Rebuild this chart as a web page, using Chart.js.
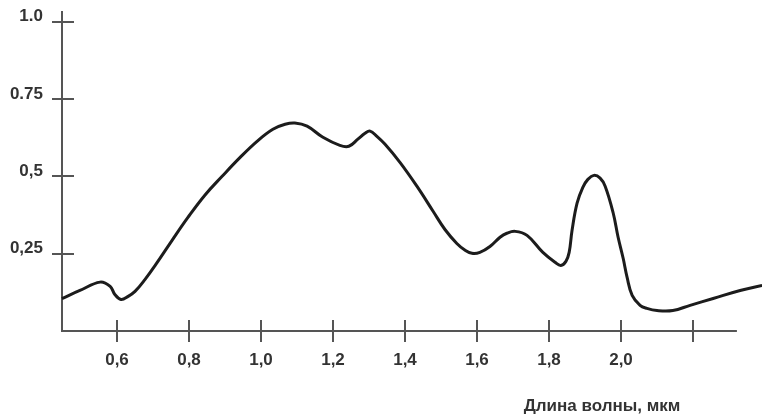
<!DOCTYPE html>
<html>
<head>
<meta charset="utf-8">
<script src="https://cdn.jsdelivr.net/npm/chart.js@4"></script>
<style>
    html, body { margin: 0; padding: 0; background: #fff; }
    #wrap { width: 762px; height: 417px; position: relative; }
</style>
</head>
<body>
<div id="wrap"><canvas id="spectrum"></canvas></div>
<script>
'use strict';

// wavelength, um
var wavelength = [0.447, 0.497, 0.553, 0.581, 0.594, 0.611, 0.631, 0.650, 0.678,
    0.706, 0.753, 0.797, 0.844, 0.892, 0.942, 0.989, 1.033, 1.067, 1.094,
    1.128, 1.172, 1.219, 1.244, 1.269, 1.289, 1.303, 1.322, 1.344, 1.386,
    1.433, 1.478, 1.511, 1.544, 1.567, 1.586, 1.608, 1.636, 1.664, 1.683,
    1.706, 1.739, 1.783, 1.817, 1.833, 1.847, 1.856, 1.864, 1.878, 1.894,
    1.908, 1.925, 1.942, 1.956, 1.978, 1.992, 2.006, 2.017, 2.031, 2.053,
    2.072, 2.100, 2.144, 2.192, 2.256, 2.331, 2.392];

var reflectance = [0.105, 0.131, 0.158, 0.144, 0.118, 0.102, 0.112, 0.128, 0.167,
    0.212, 0.293, 0.367, 0.439, 0.500, 0.561, 0.613, 0.652, 0.668, 0.672,
    0.662, 0.626, 0.600, 0.597, 0.620, 0.639, 0.646, 0.629, 0.604, 0.545,
    0.468, 0.387, 0.328, 0.283, 0.261, 0.251, 0.254, 0.273, 0.303, 0.316,
    0.322, 0.309, 0.254, 0.222, 0.212, 0.225, 0.254, 0.325, 0.413, 0.464,
    0.490, 0.503, 0.494, 0.468, 0.383, 0.303, 0.235, 0.173, 0.115, 0.083,
    0.073, 0.066, 0.066, 0.083, 0.105, 0.131, 0.147];

var xTickValues = [0.6, 0.8, 1.0, 1.2, 1.4, 1.6, 1.8, 2.0, 2.2];
var xTickLabels = ['0,6', '0,8', '1,0', '1,2', '1,4', '1,6', '1,8', '2,0', ''];
var yTickValues = [0.25, 0.5, 0.75, 1.0];
var yTickLabels = ['0,25', '0,5', '0.75', '1.0'];
var xAxisEnd = 2.322;  // the drawn x axis line stops short of the curve
var axisTitle = 'Длина волны, мкм';

var axisColor = '#555555';
var textColor = '#333333';
var labelFont = { family: '"Liberation Sans", Arial, sans-serif', size: 17, weight: 'bold' };

var points = [];
for (var i = 0; i < wavelength.length; i++) {
    points.push({ x: wavelength[i], y: reflectance[i] });
}

// x axis line, tick marks that cross the axis lines, and the axis caption
var crossTicks = {
    id: 'crossTicks',
    afterDraw: function (chart) {
        var ctx = chart.ctx;
        var xs = chart.scales.x;
        var ys = chart.scales.y;
        var area = chart.chartArea;
        ctx.save();
        ctx.strokeStyle = axisColor;
        ctx.lineWidth = 2;
        ctx.beginPath();
        ctx.moveTo(area.left - 1, area.bottom);
        ctx.lineTo(xs.getPixelForValue(xAxisEnd), area.bottom);
        for (var i = 0; i < xTickValues.length; i++) {
            var px = Math.round(xs.getPixelForValue(xTickValues[i]));
            ctx.moveTo(px, area.bottom - 11);
            ctx.lineTo(px, area.bottom + 11);
        }
        for (var j = 0; j < yTickValues.length; j++) {
            var py = Math.round(ys.getPixelForValue(yTickValues[j]));
            ctx.moveTo(area.left - 10, py);
            ctx.lineTo(area.left + 12, py);
        }
        ctx.stroke();

        ctx.fillStyle = textColor;
        ctx.font = 'bold 17px "Liberation Sans", Arial, sans-serif';
        ctx.textAlign = 'center';
        ctx.textBaseline = 'middle';
        ctx.fillText(axisTitle, 602, 406);
        ctx.restore();
    }
};

var ctx = document.getElementById('spectrum').getContext('2d');

new Chart(ctx, {
    type: 'line',
    data: {
        datasets: [{
            data: points,
            borderColor: '#1c1c1c',
            borderWidth: 3,
            pointRadius: 0,
            fill: false,
            tension: 0.4,
            clip: false
        }]
    },
    options: {
        responsive: true,
        maintainAspectRatio: false,
        animation: false,
        layout: { padding: { top: 12, right: 0, left: 0, bottom: 0 } },
        plugins: {
            legend: { display: false },
            tooltip: { enabled: false }
        },
        scales: {
            x: {
                type: 'linear',
                min: 0.4472,
                max: 2.3917,
                grid: { display: false, drawTicks: false },
                border: { display: false },
                afterBuildTicks: function (scale) {
                    scale.ticks = xTickValues.map(function (v) { return { value: v }; });
                },
                afterFit: function (scale) {
                    scale.height = 86;
                    scale.paddingLeft = 0;
                    scale.paddingRight = 0;
                },
                ticks: {
                    autoSkip: false,
                    maxRotation: 0,
                    padding: 19,
                    color: textColor,
                    font: labelFont,
                    callback: function (value, index) { return xTickLabels[index]; }
                }
            },
            y: {
                min: 0,
                max: 1.031,
                grid: { display: false, drawTicks: false },
                border: { display: true, color: axisColor, width: 2 },
                afterBuildTicks: function (scale) {
                    scale.ticks = yTickValues.map(function (v) { return { value: v }; });
                },
                afterFit: function (scale) {
                    scale.width = 62;
                    scale.paddingTop = 0;
                    scale.paddingBottom = 0;
                },
                ticks: {
                    autoSkip: false,
                    padding: 19,
                    labelOffset: -5,
                    color: textColor,
                    font: labelFont,
                    callback: function (value, index) { return yTickLabels[index]; }
                }
            }
        }
    },
    plugins: [crossTicks]
});
</script>
</body>
</html>
